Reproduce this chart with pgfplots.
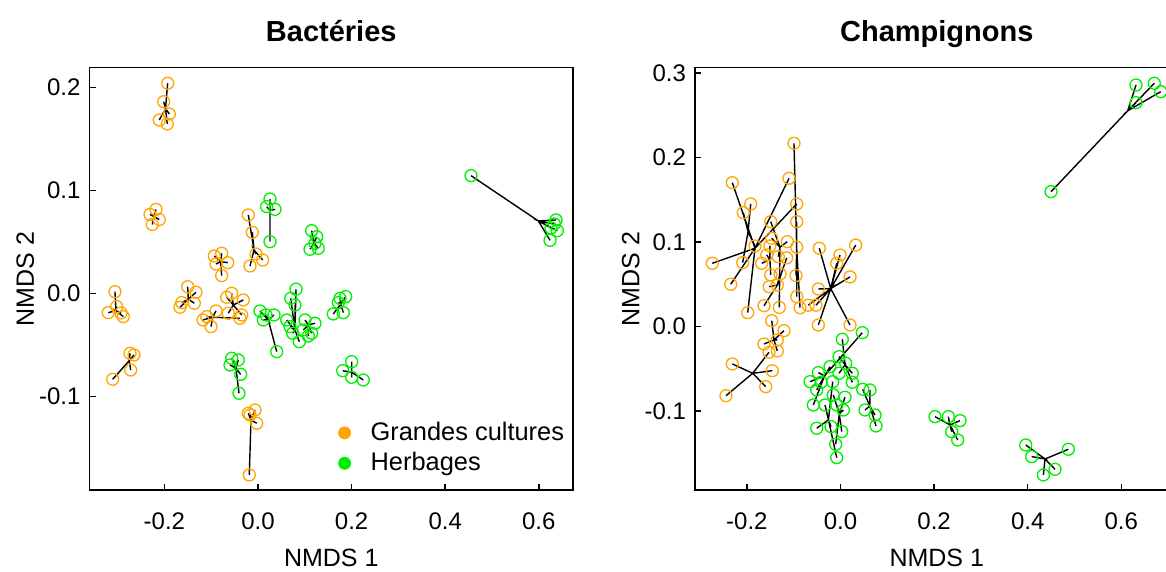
\documentclass[border=0pt]{standalone}
\usepackage{fontspec}
\setmainfont{Liberation Sans}
\usepackage{pgfplots}
\pgfplotsset{compat=1.18}
\definecolor{orangeR}{RGB}{255,165,0}
\definecolor{greenR}{RGB}{0,238,0}
\pgfplotsset{
 spO/.style={forget plot, black, line width=0.7pt, mark=o, mark repeat=2, mark phase=2, mark size=3pt, mark options={draw=orangeR, line width=0.65pt, solid}},
 spG/.style={forget plot, black, line width=0.7pt, mark=o, mark repeat=2, mark phase=2, mark size=3pt, mark options={draw=greenR, line width=0.65pt, solid}},
 base/.style={scale only axis, width=241.75pt, height=211.15pt, anchor=south west,
  axis line style={line width=0.75pt}, tick style={black, line width=0.75pt},
  major tick length=3pt, tick pos=left, tick align=inside,
  every tick label/.append style={font=\fontsize{12}{14}\selectfont},
  xticklabel style={anchor=base, yshift=-20pt},
  yticklabel style={anchor=east, xshift=-1pt},
  every axis title/.style={at={(0.5,1)}, anchor=base, yshift=13pt, font=\bfseries\fontsize{14.5}{17}\selectfont},
  every axis x label/.style={at={(0.5,0)}, anchor=base, yshift=-38.5pt, font=\fontsize{12.5}{14}\selectfont},
  every axis y label/.style={at={(-0.133,0.5)}, rotate=90, anchor=center, font=\fontsize{12.5}{14}\selectfont},
  xlabel={NMDS 1}, ylabel={NMDS 2},
  xtick={-0.2,0,0.2,0.4,0.6}, xticklabels={-0.2,0.0,0.2,0.4,0.6},
 }
}
\begin{document}
\begin{tikzpicture}
\begin{axis}[base, at={(44.75pt,41pt)}, title={Bactéries},
 xmin=-0.36, xmax=0.673, ymin=-0.1906, ymax=0.2194,
 ytick={-0.1,0,0.1,0.2}, yticklabels={-0.1,0.0,0.1,0.2},
 legend style={draw=none, fill=none, font=\fontsize{12.7}{14}\selectfont, at={(0.502,0.1805)}, anchor=north west, legend cell align=left, row sep=0.5pt, column sep=8pt}]
% orange groups
\addplot[spO] coordinates {(-0.1976,0.1797)(-0.193,0.2043)(-0.1976,0.1797)(-0.2015,0.1864)(-0.1976,0.1797)(-0.1895,0.1745)(-0.1976,0.1797)(-0.2109,0.1686)(-0.1976,0.1797)(-0.1938,0.1648)};
\addplot[spO] coordinates {(-0.2216,0.0748)(-0.2179,0.0818)(-0.2216,0.0748)(-0.2308,0.0769)(-0.2216,0.0748)(-0.2109,0.072)(-0.2216,0.0748)(-0.2259,0.0672)};
\addplot[spO] coordinates {(-0.3034,-0.0165)(-0.3056,0.0019)(-0.3034,-0.0165)(-0.3019,-0.0126)(-0.3034,-0.0165)(-0.3199,-0.0184)(-0.3034,-0.0165)(-0.2878,-0.0223)(-0.3034,-0.0165)(-0.2927,-0.0187)};
\addplot[spO] coordinates {(-0.275,-0.065)(-0.2735,-0.0579)(-0.275,-0.065)(-0.265,-0.0595)(-0.275,-0.065)(-0.272,-0.0741)(-0.275,-0.065)(-0.3105,-0.0831)};
\addplot[spO] coordinates {(-0.149,-0.0054)(-0.1502,0.0068)(-0.149,-0.0054)(-0.1325,0.0014)(-0.149,-0.0054)(-0.163,-0.0087)(-0.149,-0.0054)(-0.1667,-0.0132)(-0.149,-0.0054)(-0.1361,-0.0093)};
\addplot[spO] coordinates {(-0.0968,-0.0229)(-0.0897,-0.0168)(-0.0968,-0.0229)(-0.1096,-0.0223)(-0.0968,-0.0229)(-0.1004,-0.032)(-0.0968,-0.0229)(-0.1175,-0.0255)(-0.0968,-0.0229)(-0.0385,-0.0239)};
\addplot[spO] coordinates {(-0.0528,-0.011)(-0.0562,0.0004)(-0.0528,-0.011)(-0.0669,-0.0035)(-0.0528,-0.011)(-0.0314,-0.0061)(-0.0528,-0.011)(-0.0635,-0.019)(-0.0528,-0.011)(-0.0348,-0.0207)};
\addplot[spO] coordinates {(-0.0797,0.0311)(-0.0776,0.0392)(-0.0797,0.0311)(-0.0934,0.0366)(-0.0797,0.0311)(-0.0647,0.0301)(-0.0797,0.0311)(-0.0897,0.0288)(-0.0797,0.0311)(-0.0776,0.0175)};
\addplot[spO] coordinates {(-0.0085,0.0424)(-0.0207,0.0764)(-0.0085,0.0424)(-0.0122,0.0596)(-0.0085,0.0424)(-0.0043,0.0385)(-0.0085,0.0424)(0.01,0.0327)(-0.0085,0.0424)(-0.0171,0.0269)};
\addplot[spO] coordinates {(-0.015,-0.1226)(-0.0207,-0.1161)(-0.015,-0.1226)(-0.0064,-0.1129)(-0.015,-0.1226)(-0.0171,-0.1178)(-0.015,-0.1226)(-0.0028,-0.1258)(-0.015,-0.1226)(-0.0186,-0.176)};
% green groups
\addplot[spG] coordinates {(0.0256,0.0806)(0.0256,0.0919)(0.0256,0.0806)(0.0186,0.0845)(0.0256,0.0806)(0.0363,0.0819)(0.0256,0.0806)(0.0256,0.0505)};
\addplot[spG] coordinates {(0.1197,0.0489)(0.1147,0.0612)(0.1197,0.0489)(0.1254,0.0553)(0.1197,0.0489)(0.1111,0.0431)(0.1197,0.0489)(0.1288,0.0441)(0.1197,0.0489)(0.1218,0.0489)};
\addplot[spG] coordinates {(0.022,-0.0255)(0.0043,-0.0168)(0.022,-0.0255)(0.0171,-0.0207)(0.022,-0.0255)(0.0342,-0.0207)(0.022,-0.0255)(0.0113,-0.0255)(0.022,-0.0255)(0.04,-0.0563)};
\addplot[spG] coordinates {(0.079,-0.0353)(0.0812,0.0043)(0.079,-0.0353)(0.0699,-0.0045)(0.079,-0.0353)(0.0791,-0.011)(0.079,-0.0353)(0.0684,-0.032)(0.079,-0.0353)(0.0741,-0.0384)(0.079,-0.0353)(0.0882,-0.0466)(0.079,-0.0353)(0.0613,-0.0256)};
\addplot[spG] coordinates {(0.1075,-0.0304)(0.1004,-0.0255)(0.1075,-0.0304)(0.1218,-0.0287)(0.1075,-0.0304)(0.1075,-0.0411)(0.1075,-0.0304)(0.0968,-0.0352)(0.1075,-0.0304)(0.1147,-0.0384)};
\addplot[spG] coordinates {(0.1767,-0.01)(0.1752,-0.0045)(0.1767,-0.01)(0.1874,-0.0029)(0.1767,-0.01)(0.1609,-0.0197)(0.1767,-0.01)(0.1823,-0.0184)(0.1767,-0.01)(0.1716,-0.0087)};
\addplot[spG] coordinates {(-0.047,-0.0724)(-0.0562,-0.0627)(-0.047,-0.0724)(-0.0421,-0.0644)(-0.047,-0.0724)(-0.0598,-0.0692)(-0.047,-0.0724)(-0.037,-0.0783)(-0.047,-0.0724)(-0.0406,-0.0967)};
\addplot[spG] coordinates {(0.2002,-0.0763)(0.2002,-0.066)(0.2002,-0.0763)(0.181,-0.0748)(0.2002,-0.0763)(0.2002,-0.0812)(0.2002,-0.0763)(0.225,-0.0838)};
\addplot[spG] coordinates {(0.599,0.0706)(0.4551,0.1146)(0.599,0.0706)(0.6331,0.0677)(0.599,0.0706)(0.6395,0.0612)(0.599,0.0706)(0.6239,0.0518)(0.599,0.0706)(0.626,0.0638)(0.599,0.0706)(0.6368,0.0716)};
\addlegendimage{only marks, mark=*, mark size=3pt, color=orangeR}
\addlegendentry{Grandes cultures}
\addlegendimage{only marks, mark=*, mark size=3pt, color=greenR}
\addlegendentry{Herbages}
\end{axis}
\begin{axis}[base, at={(347.5pt,41pt)}, title={Champignons},
 xmin=-0.3109, xmax=0.7222, ymin=-0.1933, ymax=0.3065,
 ytick={-0.1,0,0.1,0.2,0.3}, yticklabels={-0.1,0.0,0.1,0.2,0.3}]
% orange groups
\addplot[spO] coordinates {(-0.1827,0.0928)(-0.110,0.1756)(-0.1827,0.0928)(-0.2312,0.1704)(-0.1827,0.0928)(-0.0936,0.1452)(-0.1827,0.0928)(-0.2739,0.075)(-0.1827,0.0928)(-0.2346,0.0502)(-0.1827,0.0928)(-0.1983,0.0166)};
\addplot[spO] coordinates {(-0.1976,0.1124)(-0.1919,0.1452)(-0.1976,0.1124)(-0.2077,0.1349)(-0.1976,0.1124)(-0.209,0.0758)(-0.1976,0.1124)(-0.1827,0.0955)};
\addplot[spO] coordinates {(-0.0936,0.0923)(-0.0994,0.217)(-0.0936,0.0923)(-0.0936,0.1243)(-0.0936,0.0923)(-0.0936,0.094)(-0.0936,0.0923)(-0.0951,0.0604)(-0.0936,0.0923)(-0.0936,0.0355)(-0.0936,0.0923)(-0.0865,0.0224)};
\addplot[spO] coordinates {(-0.1293,0.094)(-0.1491,0.1243)(-0.1293,0.094)(-0.1137,0.1006)(-0.1293,0.094)(-0.147,0.1046)(-0.1293,0.094)(-0.1329,0.0828)(-0.1293,0.094)(-0.1308,0.0228)};
\addplot[spO] coordinates {(-0.1509,0.0793)(-0.1509,0.0955)(-0.1509,0.0793)(-0.1684,0.075)(-0.1509,0.0793)(-0.1577,0.0848)(-0.1509,0.0793)(-0.1491,0.0612)};
\addplot[spO] coordinates {(-0.135,0.0493)(-0.1524,0.0473)(-0.135,0.0493)(-0.1635,0.0248)(-0.135,0.0493)(-0.115,0.0814)(-0.135,0.0493)(-0.135,0.0493)(-0.135,0.0493)(-0.1293,0.0624)};
\addplot[spO] coordinates {(-0.0209,0.045)(-0.0453,0.0928)(-0.0209,0.045)(0.0325,0.0966)(-0.0209,0.045)(-0.0011,0.0848)(-0.0209,0.045)(-0.0081,0.075)(-0.0209,0.045)(0.0203,0.0589)(-0.0209,0.045)(-0.0474,0.0446)(-0.0209,0.045)(-0.069,0.0254)(-0.0209,0.045)(-0.0524,0.0254)(-0.0209,0.045)(-0.0474,0.002)(-0.0209,0.045)(0.0203,0.002)};
\addplot[spO] coordinates {(-0.1421,-0.0157)(-0.147,0.0071)(-0.1421,-0.0157)(-0.1207,-0.0047)(-0.1421,-0.0157)(-0.1635,-0.0205)(-0.1421,-0.0157)(-0.135,-0.0157)(-0.1421,-0.0157)(-0.135,-0.0288)};
\addplot[spO] coordinates {(-0.1876,-0.0552)(-0.2312,-0.0441)(-0.1876,-0.0552)(-0.1457,-0.0521)(-0.1876,-0.0552)(-0.1598,-0.071)(-0.1876,-0.0552)(-0.2447,-0.0817)(-0.1876,-0.0552)(-0.1528,-0.0303)};
% green groups
\addplot[spG] coordinates {(-0.0342,-0.0582)(0.0466,-0.0071)(-0.0342,-0.0582)(-0.0474,-0.0544)(-0.0342,-0.0582)(-0.0652,-0.0651)(-0.0342,-0.0582)(-0.0417,-0.0658)(-0.0342,-0.0582)(-0.0509,-0.0749)(-0.0342,-0.0582)(-0.0581,-0.0927)(-0.0342,-0.0582)(-0.0224,-0.0473)};
\addplot[spG] coordinates {(0.0098,-0.045)(0.0038,-0.0149)(0.0098,-0.045)(-0.0032,-0.0355)(0.0098,-0.045)(0.0111,-0.0433)(0.0098,-0.045)(-0.0032,-0.0552)(0.0098,-0.045)(0.0252,-0.0552)(0.0098,-0.045)(0.0252,-0.0658)};
\addplot[spG] coordinates {(-0.0258,-0.1103)(-0.0167,-0.0651)(-0.0258,-0.1103)(-0.0331,-0.0927)(-0.0258,-0.1103)(-0.0509,-0.1202)(-0.0258,-0.1103)(-0.0203,-0.1183)(-0.0258,-0.1103)(-0.0081,-0.155)};
\addplot[spG] coordinates {(-0.0026,-0.1032)(-0.0154,-0.0808)(-0.0026,-0.1032)(0.0096,-0.0835)(-0.0026,-0.1032)(-0.0081,-0.0927)(-0.0026,-0.1032)(0.006,-0.0986)(-0.0026,-0.1032)(0.0026,-0.1242)(-0.0026,-0.1032)(-0.0103,-0.1392)};
\addplot[spG] coordinates {(0.0625,-0.0939)(0.0474,-0.0741)(0.0625,-0.0939)(0.063,-0.0749)(0.0625,-0.0939)(0.0524,-0.0986)(0.0625,-0.0939)(0.0759,-0.1175)(0.0625,-0.0939)(0.0737,-0.1045)};
\addplot[spG] coordinates {(0.234,-0.1163)(0.2019,-0.1065)(0.234,-0.1163)(0.2304,-0.1065)(0.234,-0.1163)(0.2554,-0.1112)(0.234,-0.1163)(0.2376,-0.1243)(0.234,-0.1163)(0.2504,-0.1341)};
\addplot[spG] coordinates {(0.437,-0.1566)(0.3957,-0.14)(0.437,-0.1566)(0.4085,-0.1538)(0.437,-0.1566)(0.4868,-0.1451)(0.437,-0.1566)(0.4583,-0.1688)(0.437,-0.1566)(0.4334,-0.1755)};
\addplot[spG] coordinates {(0.6135,0.2554)(0.6314,0.286)(0.6135,0.2554)(0.6705,0.288)(0.6135,0.2554)(0.6842,0.2781)(0.6135,0.2554)(0.6314,0.2651)(0.6135,0.2554)(0.4498,0.1598)};
\end{axis}
\pgfresetboundingbox
\useasboundingbox (0,0) rectangle (583pt,286pt);
\end{tikzpicture}
\end{document}
